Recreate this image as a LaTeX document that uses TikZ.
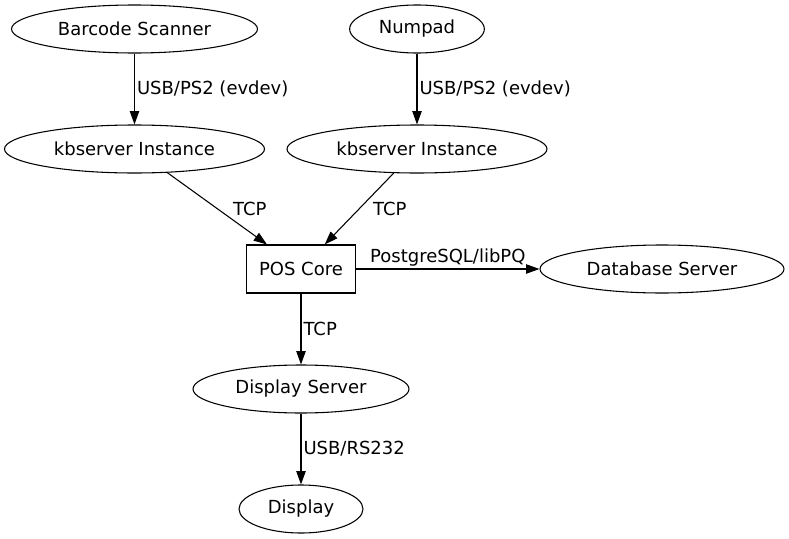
\documentclass[tikz,border=0pt]{standalone}
\usepackage{fontspec}
\setmainfont{DejaVu Sans}
\usetikzlibrary{shapes.geometric,arrows.meta}
\tikzset{
  unit/.style={ellipse, draw, minimum height=36pt, inner sep=0pt},
  core/.style={rectangle, draw, minimum height=36pt, minimum width=82pt, inner sep=0pt},
  lbl/.style={inner sep=1.5pt}
}
\begin{document}
\begin{tikzpicture}[x=0.75pt, y=-0.75pt, line width=0.8pt,
    >={Triangle[length=10pt,width=7pt]}, font=\fontsize{13.5}{16}\selectfont]
    \useasboundingbox (0,0) rectangle (789,539);
    % input devices and their kbserver instances
    \node[unit, minimum width=184.5pt] (scanner) at (134.5,29) {Barcode Scanner};
    \node[unit, minimum width=101pt] (numpad) at (417,29) {Numpad};
    \node[unit, minimum width=195pt] (kbleft) at (134.5,149) {kbserver Instance};
    \node[unit, minimum width=195pt] (kbright) at (417,149) {kbserver Instance};
    % core and servers
    \node[core] (pos) at (301,269) {POS Core};
    \node[unit, minimum width=183pt] (db) at (662,269) {Database Server};
    \node[unit, minimum width=162pt] (dispsrv) at (301,389) {Display Server};
    \node[unit, minimum width=93pt] (disp) at (301,509) {Display};
    \draw[->] (scanner) -- (kbleft) node[midway, right, lbl] {USB/PS2 (evdev)};
    \draw[->] (numpad) -- (kbright) node[midway, right, lbl] {USB/PS2 (evdev)};
    \draw[->] (kbleft) -- (pos) node[midway, right=10pt, lbl] {TCP};
    \draw[->] (kbright) -- (pos) node[midway, right=8.5pt, lbl] {TCP};
    \draw[->] (pos) -- (db) node[midway, above, lbl] {PostgreSQL/libPQ};
    \draw[->] (pos) -- (dispsrv) node[midway, right, lbl] {TCP};
    \draw[->] (dispsrv) -- (disp) node[midway, right, lbl] {USB/RS232};
\end{tikzpicture}
\end{document}
